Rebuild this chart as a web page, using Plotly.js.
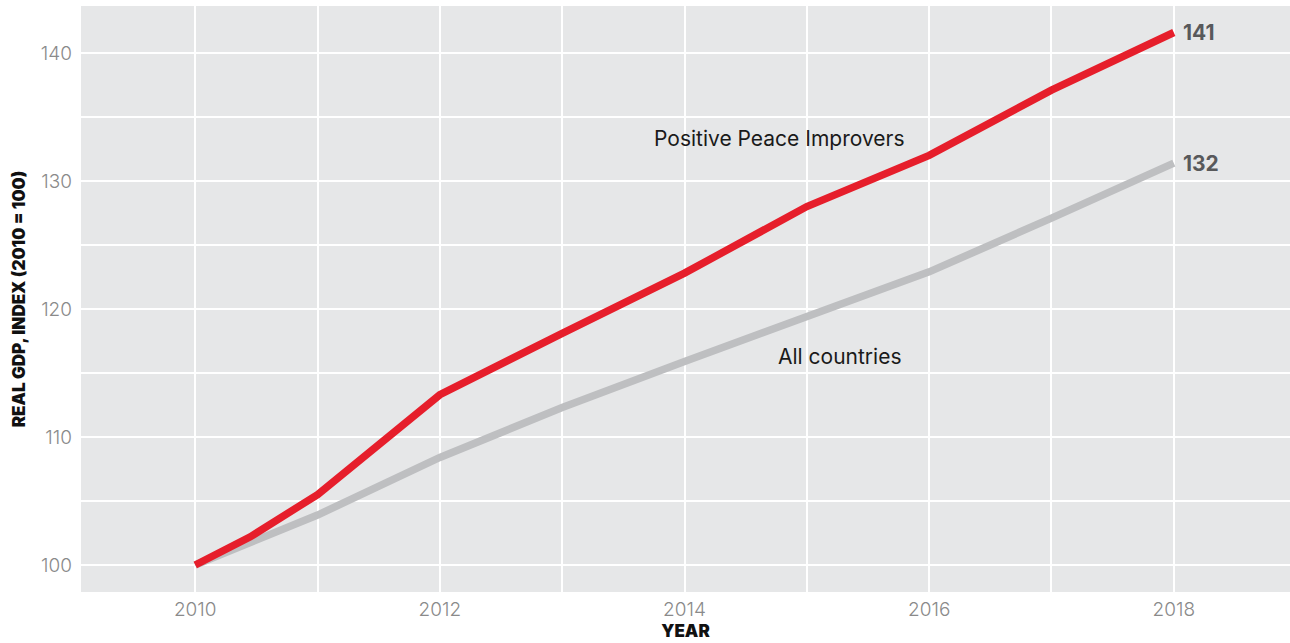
<!DOCTYPE html>
<html>
<head>
<meta charset="utf-8">
<script src="https://cdn.plot.ly/plotly-3.0.1.min.js"></script>
<style>html,body{margin:0;padding:0;background:#fff;}#chart{width:1290px;height:643px;}</style>
</head>
<body>
<div id="chart"></div>
<script>
// Data
const improverYears = [2010, 2010.45, 2011, 2012, 2013, 2014, 2015, 2016, 2017, 2018];
const improverValues = [100, 102.2, 105.5, 113.3, 118.1, 122.8, 128.0, 132.0, 137.1, 141.6];
const allYears = [2010, 2011, 2012, 2013, 2014, 2015, 2016, 2017, 2018];
const allValues = [100, 103.9, 108.4, 112.3, 115.9, 119.4, 122.9, 127.1, 131.4];
const xTickVals = [2010, 2011, 2012, 2013, 2014, 2015, 2016, 2017, 2018];
const xTickText = ['2010', '', '2012', '', '2014', '', '2016', '', '2018'];
const yTickVals = [100, 105, 110, 115, 120, 125, 130, 135, 140];
const yTickText = ['100', '', '110', '', '120', '', '130', '', '140'];
const endLabels = ['141', '132'];
const seriesNames = ['Positive Peace Improvers', 'All countries'];

const FAM = 'Inter, Roboto, sans-serif';
const lightFont = {family: FAM, size: 19, color: '#8a8a8a', weight: 300};

const traces = [
  {x: allYears, y: allValues, type: 'scatter', mode: 'lines', name: seriesNames[1],
   line: {color: '#bebfc1', width: 7.5}, hoverinfo: 'x+y'},
  {x: improverYears, y: improverValues, type: 'scatter', mode: 'lines', name: seriesNames[0],
   line: {color: '#e61e2b', width: 7.5}, hoverinfo: 'x+y'}
];

const layout = {
  width: 1290, height: 643,
  margin: {l: 81, r: 0, t: 6, b: 51},
  paper_bgcolor: '#ffffff',
  plot_bgcolor: '#e6e7e8',
  showlegend: false,
  font: {family: FAM},
  xaxis: {
    range: [2009.066, 2018.95],
    tickvals: xTickVals, ticktext: xTickText,
    showgrid: true, gridcolor: '#ffffff', gridwidth: 2,
    zeroline: false, showline: false, ticks: '',
    tickfont: lightFont,
    ticklabelstandoff: 4,
    title: {text: 'YEAR', font: {family: FAM, size: 17, color: '#111', weight: 900}, standoff: 4}
  },
  yaxis: {
    range: [97.89, 143.67],
    tickvals: yTickVals, ticktext: yTickText,
    showgrid: true, gridcolor: '#ffffff', gridwidth: 2,
    zeroline: false, showline: false, ticks: '',
    tickfont: lightFont,
    ticklabelstandoff: 8,
    title: {text: 'REAL GDP, INDEX (2010 = 100)', font: {family: FAM, size: 17, color: '#111', weight: 900}, standoff: 10}
  },
  annotations: [
    {x: improverYears[improverYears.length - 1], y: improverValues[improverValues.length - 1], text: endLabels[0],
     xanchor: 'left', yanchor: 'middle', xshift: 7, showarrow: false,
     font: {family: FAM, size: 21, color: '#58595b', weight: 700}},
    {x: allYears[allYears.length - 1], y: allValues[allValues.length - 1], text: endLabels[1],
     xanchor: 'left', yanchor: 'middle', xshift: 7, showarrow: false,
     font: {family: FAM, size: 21, color: '#58595b', weight: 700}},
    {x: 2014.78, y: 133.3, text: seriesNames[0], showarrow: false, xanchor: 'center', yanchor: 'middle',
     font: {family: FAM, size: 21, color: '#1a1a1a', weight: 400}},
    {x: 2015.27, y: 116.3, text: seriesNames[1], showarrow: false, xanchor: 'center', yanchor: 'middle',
     font: {family: FAM, size: 21, color: '#1a1a1a', weight: 400}},
    {xref: 'paper', yref: 'paper', x: -0.06, y: -0.083, xanchor: 'left', yanchor: 'top',
     text: 'Source: World Bank, IEP', showarrow: false,
     font: {family: FAM, size: 15, color: '#8a8a8a', weight: 300}}
  ]
};

Plotly.newPlot('chart', traces, layout, {displayModeBar: false});
</script>
</body>
</html>
